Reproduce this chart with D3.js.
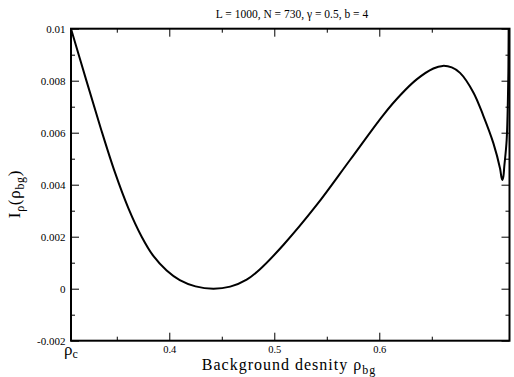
<!DOCTYPE html>
<html>
<head>
<meta charset="utf-8">
<script src="https://cdn.jsdelivr.net/npm/d3@7"></script>
<style>
  body { margin: 0; background: #fff; }
  svg { display: block; }
  text { font-family: "Liberation Serif", "Times New Roman", serif; fill: #000; }
</style>
</head>
<body>
<svg id="chart" width="514" height="377"></svg>
<script>
// ---- data ----
const rho = [0.3064, 0.3207, 0.3345, 0.3480, 0.3610, 0.3737, 0.3850, 0.3975, 0.4100, 0.4250, 0.4419, 0.4580, 0.4737, 0.4864, 0.5086, 0.5404, 0.5721, 0.6038, 0.6197, 0.6356, 0.6515, 0.6604, 0.6690, 0.6769, 0.6896, 0.6991, 0.7087, 0.7150, 0.7163, 0.7172, 0.7182, 0.7190, 0.7213, 0.7229, 0.7232];
const Ival = [0.01000, 0.00805, 0.00620, 0.00450, 0.00310, 0.00200, 0.00125, 0.00070, 0.00033, 0.00009, 0.0, 0.00008, 0.00035, 0.00075, 0.00168, 0.00322, 0.00495, 0.00668, 0.00743, 0.00805, 0.00847, 0.00857, 0.00851, 0.00830, 0.00755, 0.00665, 0.00559, 0.00462, 0.00430, 0.00418, 0.00432, 0.00469, 0.00572, 0.00828, 0.01000];
const xMajorTicks = [0.4, 0.5, 0.6];
const xMinorTicks = [0.35, 0.45, 0.55, 0.65];
const yMajorTicks = [-0.002, 0, 0.002, 0.004, 0.006, 0.008, 0.01];
const yMinorTicks = [-0.001, 0.001, 0.003, 0.005, 0.007, 0.009];
const yTickLabels = ["-0.002", "0", "0.002", "0.004", "0.006", "0.008", "0.01"];
const xTickLabels = ["0.4", "0.5", "0.6"];
const xDomain = [0.3064, 0.7240];
const yDomain = [-0.002, 0.01];
const titleText = "L = 1000, N = 730, \u03b3 = 0.5, b = 4";

// ---- layout ----
const svg = d3.select("#chart");
const L = 71, R = 509.5, T = 28.7, B = 340.7;
const x = d3.scaleLinear().domain(xDomain).range([L, R]);
const y = d3.scaleLinear().domain(yDomain).range([B, T]);

// curve
const pts = rho.map((r, i) => [r, Ival[i]]);
svg.append("path")
  .datum(pts)
  .attr("fill", "none")
  .attr("stroke", "#000")
  .attr("stroke-width", 2)
  .attr("stroke-linejoin", "round")
  .attr("d", d3.line().x(d => x(d[0])).y(d => y(d[1])).curve(d3.curveCatmullRom.alpha(0.5)));

// axes (ticks inward)
function axis(make, transform, maj, min, lab, fs) {
  const gMaj = svg.append("g").attr("transform", transform)
    .call(make().tickValues(maj).tickSizeInner(-8).tickSizeOuter(0).tickPadding(4).tickFormat((d, i) => lab ? lab[i] : ""));
  gMaj.select(".domain").remove();
  gMaj.selectAll("text").style("font-family", "Liberation Serif, serif").style("font-size", fs).attr("fill", "#000");
  gMaj.selectAll("line").attr("stroke", "#000");
  const gMin = svg.append("g").attr("transform", transform)
    .call(make().tickValues(min).tickSizeInner(-4).tickSizeOuter(0).tickFormat(""));
  gMin.select(".domain").remove();
  gMin.selectAll("line").attr("stroke", "#000");
  return gMaj;
}
const bottom = axis(() => d3.axisBottom(x), `translate(0,${B})`, xMajorTicks, xMinorTicks, xTickLabels, "10.5px");
bottom.selectAll("text").attr("dy", null).attr("y", 12);
axis(() => d3.axisTop(x), `translate(0,${T})`, xMajorTicks, xMinorTicks, null, "10px");
const left = axis(() => d3.axisLeft(y), `translate(${L},0)`, yMajorTicks, yMinorTicks, yTickLabels, "11px");
left.selectAll("text").attr("x", -5.5);
axis(() => d3.axisRight(y), `translate(${R},0)`, yMajorTicks, yMinorTicks, null, "10px");

// frame
svg.append("rect").attr("x", L).attr("y", T).attr("width", R - L).attr("height", B - T)
  .attr("fill", "none").attr("stroke", "#000").attr("stroke-width", 2);

// title
svg.append("text").attr("x", 292).attr("y", 18).attr("text-anchor", "middle")
  .style("font-size", "11.5px").text(titleText);

// rho_c label at left of x axis
const rc = svg.append("text").attr("x", 64).attr("y", 355).style("font-size", "17px");
rc.append("tspan").text("\u03c1");
rc.append("tspan").attr("dy", 3).style("font-size", "12px").text("c");

// x axis title
const xt = svg.append("text").attr("x", 289).attr("y", 370).attr("text-anchor", "middle")
  .style("font-size", "16px").style("letter-spacing", "1px");
xt.append("tspan").text("Background desnity \u03c1");
xt.append("tspan").attr("dy", 4).style("font-size", "12px").text("bg");

// y axis title
const yt = svg.append("text").attr("transform", "translate(20,194) rotate(-90)").attr("text-anchor", "middle")
  .style("font-size", "17px").style("letter-spacing", "0.7px");
yt.append("tspan").text("I");
yt.append("tspan").attr("dy", 4).style("font-size", "12px").text("\u03c1");
yt.append("tspan").attr("dy", -4).text("(\u03c1");
yt.append("tspan").attr("dy", 4).style("font-size", "12px").text("bg");
yt.append("tspan").attr("dy", -4).text(")");
</script>
</body>
</html>
